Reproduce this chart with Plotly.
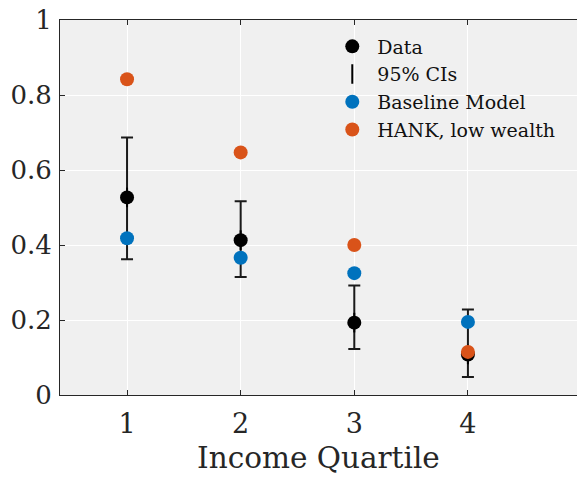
import plotly.graph_objects as go

quartiles = [1, 2, 3, 4]
data_vals = [0.527, 0.413, 0.193, 0.108]
ci_low = [0.362, 0.315, 0.123, 0.048]
ci_high = [0.687, 0.517, 0.292, 0.228]
baseline_vals = [0.418, 0.366, 0.325, 0.195]
hank_vals = [0.842, 0.647, 0.400, 0.115]
y_tick_vals = [0, 0.2, 0.4, 0.6, 0.8, 1]
y_tick_text = ["0", "0.2", "0.4", "0.6", "0.8", "1"]
x_tick_text = ["1", "2", "3", "4"]

err_plus = [h - d for h, d in zip(ci_high, data_vals)]
err_minus = [d - l for d, l in zip(data_vals, ci_low)]

FONT = "DejaVu Serif"
AX = "#262626"
TXT = "#262626"

fig = go.Figure()
# 95% CI (error bars) - drawn first
fig.add_trace(go.Scatter(
    x=quartiles, y=data_vals, mode="markers", name="95% CIs",
    marker=dict(symbol="line-ns-open", size=14, color="black",
                line=dict(color="black", width=2)),
    error_y=dict(type="data", array=err_plus, arrayminus=err_minus,
                 color="#1a1a1a", thickness=2, width=6),
    legendrank=2,
))
fig.add_trace(go.Scatter(
    x=quartiles, y=data_vals, mode="markers", name="Data",
    marker=dict(size=14, color="black"), legendrank=1,
))
fig.add_trace(go.Scatter(
    x=quartiles, y=baseline_vals, mode="markers", name="Baseline Model",
    marker=dict(size=14, color="#0072BD"), legendrank=3,
))
fig.add_trace(go.Scatter(
    x=quartiles, y=hank_vals, mode="markers", name="HANK, low wealth",
    marker=dict(size=14, color="#D95319"), legendrank=4,
))

fig.add_annotation(
    text="Income Quartile", xref="paper", yref="paper", x=0.5, y=-0.168,
    xanchor="center", yanchor="middle", showarrow=False,
    font=dict(size=29.5, family=FONT, color=TXT),
)

fig.update_layout(
    width=577, height=483,
    margin=dict(l=60, r=0, t=20, b=88, autoexpand=False),
    paper_bgcolor="white", plot_bgcolor="#f0f0f0",
    font=dict(family=FONT, color=TXT),
    showlegend=True,
    legend=dict(x=0.517, y=0.98, xanchor="left", yanchor="top",
                bgcolor="rgba(0,0,0,0)", font=dict(size=19, color="#111111", family=FONT),
                tracegroupgap=0, itemsizing="trace", itemwidth=40),
    xaxis=dict(range=[0.41, 4.96], tickvals=quartiles, ticktext=x_tick_text,
               showgrid=True, gridcolor="white", gridwidth=1.3,
               zeroline=False, showline=True, linecolor=AX, linewidth=1,
               mirror="ticks", ticks="inside", ticklen=5, tickcolor=AX,
               automargin=False, ticklabelstandoff=5,
               tickfont=dict(size=27, family=FONT, color=TXT)),
    yaxis=dict(range=[0, 1], tickvals=y_tick_vals, ticktext=y_tick_text,
               showgrid=True, gridcolor="white", gridwidth=1.3,
               zeroline=False, showline=True, linecolor=AX, linewidth=1,
               ticks="inside", ticklen=5, tickcolor=AX,
               automargin=False, ticklabelstandoff=2,
               tickfont=dict(size=26, family=FONT, color=TXT)),
)

fig.write_html("out.html", config={"displayModeBar": False},
               post_script="document.body.style.margin='0';")
